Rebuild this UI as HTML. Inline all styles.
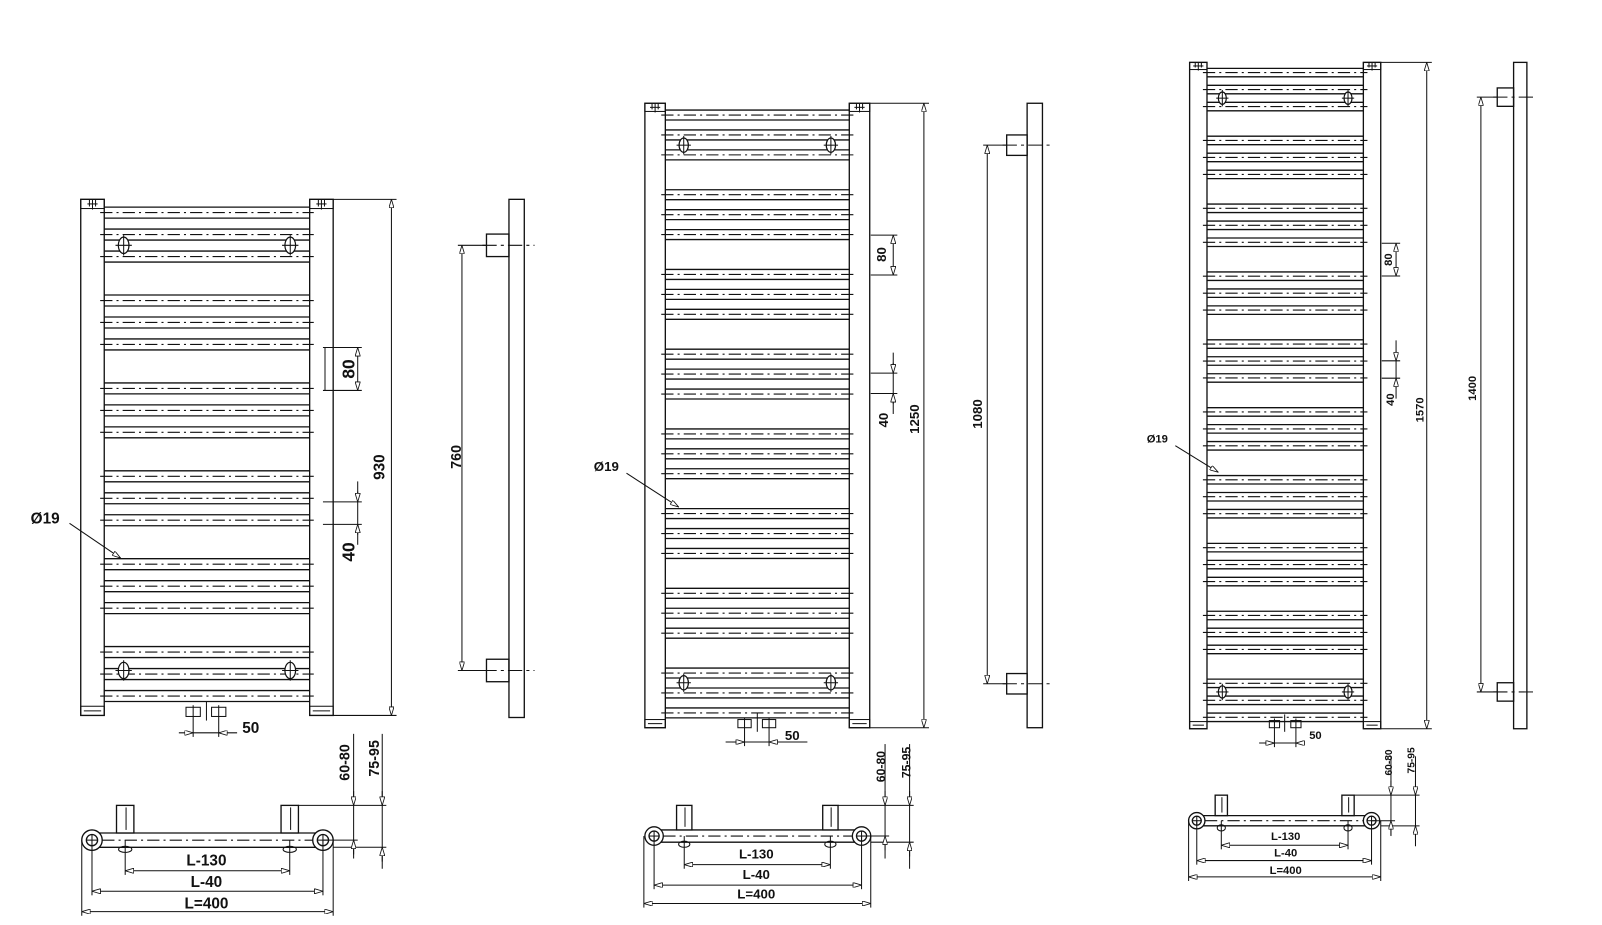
<!DOCTYPE html>
<html><head><meta charset="utf-8">
<style>
html,body{margin:0;padding:0;background:#fff;}
svg{display:block;}
text{font-family:"Liberation Sans","DejaVu Sans",sans-serif;font-weight:bold;fill:#111;}
</style></head>
<body>
<svg id="s" width="1602" height="925" viewBox="0 0 1567.5 905" xmlns="http://www.w3.org/2000/svg">
<defs>
<marker id="a" viewBox="0 0 10 6" refX="10" refY="3" markerWidth="9" markerHeight="5" orient="auto-start-reverse" markerUnits="userSpaceOnUse">
<path d="M0,0 L10,3 L0,6 Z" fill="#fff" stroke="#111" stroke-width="1"/>
</marker>
</defs>
<g id="g" stroke="#111" stroke-width="1.3" fill="none"></g>
<!-- Radiator 1 labels -->
<text x="376" y="457" font-size="15" transform="rotate(-90 376 457)" text-anchor="middle">930</text>
<text x="347" y="361" font-size="17" transform="rotate(-90 347 361)" text-anchor="middle">80</text>
<text x="347" y="540" font-size="17" transform="rotate(-90 347 540)" text-anchor="middle">40</text>
<text x="451" y="447" font-size="14" transform="rotate(-90 451 447)" text-anchor="middle">760</text>
<text x="30" y="512" font-size="15">Ø19</text>
<text x="237" y="717" font-size="15">50</text>
<text x="342" y="746" font-size="14" transform="rotate(-90 342 746)" text-anchor="middle">60-80</text>
<text x="371" y="742" font-size="14" transform="rotate(-90 371 742)" text-anchor="middle">75-95</text>
<text x="202" y="847" font-size="15" text-anchor="middle">L-130</text>
<text x="202" y="868" font-size="15" text-anchor="middle">L-40</text>
<text x="202" y="889" font-size="15" text-anchor="middle">L=400</text>
<!-- Radiator 2 labels -->
<text x="899" y="410" font-size="13" transform="rotate(-90 899 410)" text-anchor="middle">1250</text>
<text x="867" y="249" font-size="13" transform="rotate(-90 867 249)" text-anchor="middle">80</text>
<text x="869" y="411" font-size="13" transform="rotate(-90 869 411)" text-anchor="middle">40</text>
<text x="961" y="405" font-size="13" transform="rotate(-90 961 405)" text-anchor="middle">1080</text>
<text x="581" y="461" font-size="13">Ø19</text>
<text x="768" y="724" font-size="13">50</text>
<text x="866" y="750" font-size="12" transform="rotate(-90 866 750)" text-anchor="middle">60-80</text>
<text x="891" y="746" font-size="12" transform="rotate(-90 891 746)" text-anchor="middle">75-95</text>
<text x="740" y="840" font-size="13" text-anchor="middle">L-130</text>
<text x="740" y="860" font-size="13" text-anchor="middle">L-40</text>
<text x="740" y="879" font-size="13" text-anchor="middle">L=400</text>
<!-- Radiator 3 labels -->
<text x="1393" y="401" font-size="11" transform="rotate(-90 1393 401)" text-anchor="middle">1570</text>
<text x="1362" y="254" font-size="11" transform="rotate(-90 1362 254)" text-anchor="middle">80</text>
<text x="1364" y="391" font-size="11" transform="rotate(-90 1364 391)" text-anchor="middle">40</text>
<text x="1444" y="380" font-size="11" transform="rotate(-90 1444 380)" text-anchor="middle">1400</text>
<text x="1122" y="433" font-size="11">Ø19</text>
<text x="1281" y="723" font-size="11">50</text>
<text x="1362" y="746" font-size="10" transform="rotate(-90 1362 746)" text-anchor="middle">60-80</text>
<text x="1384" y="744" font-size="10" transform="rotate(-90 1384 744)" text-anchor="middle">75-95</text>
<text x="1258" y="822" font-size="11" text-anchor="middle">L-130</text>
<text x="1258" y="838" font-size="11" text-anchor="middle">L-40</text>
<text x="1258" y="855" font-size="11" text-anchor="middle">L=400</text>
</svg>
<script>
var g=document.getElementById('g'),NS='http://www.w3.org/2000/svg';
function el(t,a){var e=document.createElementNS(NS,t);for(var k in a)e.setAttribute(k,a[k]);g.appendChild(e);return e;}
function L(x1,y1,x2,y2,o){var a={x1:x1,y1:y1,x2:x2,y2:y2};if(o)for(var k in o)a[k]=o[k];return el('line',a);}
function R(x,y,w,h,o){var a={x:x,y:y,width:w,height:h};if(o)for(var k in o)a[k]=o[k];return el('rect',a);}
function D(x1,y1,x2,y2){return L(x1,y1,x2,y2,{'marker-start':'url(#a)','marker-end':'url(#a)','stroke-width':1});}
var dd={'stroke-dasharray':'12 4 2 4','stroke-width':1.1};
function rad(o){
 var xl=o.xl,cw=o.cw,xr=o.xr,top=o.top,bot=o.bot,p=o.p;
 var il=xl+cw,ir=xr-cw;
 R(xl,top,cw,bot-top);R(ir,top,cw,bot-top);
 // caps
 [xl,ir].forEach(function(x){R(x,top,cw,o.cap,{'stroke-width':1});L(x+cw/2-3,top,x+cw/2-3,top+o.cap-2,{'stroke-width':1});L(x+cw/2+3,top,x+cw/2+3,top+o.cap-2,{'stroke-width':1});L(x+cw/2,top,x+cw/2,top+o.cap+1,{'stroke-width':1});L(x+cw/2-5,top+o.cap/2,x+cw/2+5,top+o.cap/2,{'stroke-width':1});
  R(x,bot-o.cap,cw,o.cap,{'stroke-width':1});L(x+3,bot-o.cap/2,x+cw-3,bot-o.cap/2,{'stroke-width':1});});
 var h=p/4;
 for(var gi=0;gi<o.n;gi++){for(var t=0;t<3;t++){var c=o.c0+gi*4*p+t*p;
  L(il,c-h,ir,c-h);L(il,c+h,ir,c+h);L(il-4,c,ir+4,c,dd);}}
 // holes
 o.holes.forEach(function(y){[il+o.hx,ir-o.hx].forEach(function(x){el('ellipse',{cx:x,cy:y,rx:o.hr*0.65,ry:o.hr,fill:'#fff','stroke-width':1.2});L(x-o.hr,y,x+o.hr,y,{'stroke-width':1});L(x,y-o.hr-2,x,y+o.hr+2,{'stroke-width':1});});});
}
// Radiator 1
rad({xl:79,cw:23,xr:326,top:195,bot:700,p:21.5,c0:208,n:6,cap:9,holes:[240,656],hx:19,hr:8});
// Radiator 2
rad({xl:631,cw:20,xr:851,top:101,bot:712,p:19.5,c0:112.5,n:8,cap:8,holes:[142,668],hx:18,hr:7});
// Radiator 3
rad({xl:1164,cw:17,xr:1351,top:61,bot:713,p:16.6,c0:71,n:10,cap:7,holes:[96,677],hx:15,hr:6});

function heightDim(xr,top,bot,x){L(xr,top,x+5,top,{'stroke-width':1});L(xr,bot,x+5,bot,{'stroke-width':1});D(x,top,x,bot);}
heightDim(326,195,700,383);heightDim(851,101,712,904);heightDim(1351,61,713,1396);

function small(x0,y1,y2,x,out){L(x0,y1,x+4,y1,{'stroke-width':1});L(x0,y2,x+4,y2,{'stroke-width':1});
 if(out){L(x,y1-20,x,y2+20,{'stroke-width':1});L(x,y1-10,x,y1,{'marker-end':'url(#a)','stroke-width':1});L(x,y2+10,x,y2,{'marker-end':'url(#a)','stroke-width':1});}
 else D(x,y1,x,y2);}
small(316,340,382,350,false);L(318,340,318,382,{'stroke-width':1});
small(316,491,513,350,true);
small(852,230,269,874,false);small(852,365,385,874,true);
small(1352,238,270,1366,false);small(1352,353,370,1366,true);

// side views
function side(bx,bw,top,bot,sx,sh,y1,y2,dx){R(bx,top,bw,bot-top);
 [y1,y2].forEach(function(y){R(sx,y-sh/2,bx-sx,sh);L(sx-4,y,bx+bw+10,y,{'stroke-dasharray':'14 4 3 4','stroke-width':1});});
 L(sx,y1,dx-4,y1,{'stroke-width':1});L(sx,y2,dx-4,y2,{'stroke-width':1});D(dx,y1,dx,y2);}
side(498,15,195,702,476,22,240,656,452);
side(1005,15,101,712,985,20,142,669,966);
side(1481,13,61,713,1465,18,95,677,1449);

// Ø19 leaders
L(68,512,118,546,{'marker-end':'url(#a)','stroke-width':1});
L(613,463,664,496,{'marker-end':'url(#a)','stroke-width':1});
L(1150,436,1192,462,{'marker-end':'url(#a)','stroke-width':1});

// bottom nuts + 50 dim
function nuts(a,b,w,y,h,cx,dy,x0,x1){R(a,y,w,h,{'stroke-width':1});R(b,y,w,h,{'stroke-width':1});
 L(a+w/2,y-2,a+w/2,dy+4,{'stroke-width':1});L(b+w/2,y-2,b+w/2,dy+4,{'stroke-width':1});L(cx,y-6,cx,y+h+4,{'stroke-width':1});
 L(x0,dy,x1,dy,{'stroke-width':1});L(x0+6,dy,a+w/2,dy,{'marker-end':'url(#a)','stroke-width':1});L(b+w/2+8,dy,b+w/2,dy,{'marker-end':'url(#a)','stroke-width':1});}
nuts(182,207,14,692,9,202,717,175,232);
nuts(722,746,13,704,8,741,726,710,790);
nuts(1242,1263,10,705,7,1257,727,1232,1276);

// top views
function topv(o){var c=o.cy;
 L(o.c1,c-o.bh,o.c2,c-o.bh);L(o.c1,c+o.bh,o.c2,c+o.bh);
 [o.c1,o.c2].forEach(function(x){el('circle',{cx:x,cy:c,r:o.r,fill:'#fff'});el('circle',{cx:x,cy:c,r:o.r*0.55});L(x-o.r*0.55,c,x+o.r*0.55,c,{'stroke-width':1});L(x,c-o.r*0.55,x,c+o.r*0.55,{'stroke-width':1});});
 L(o.c1+o.r,c,o.c2-o.r,c,dd);
 [o.s1,o.s2].forEach(function(x){R(x,o.st,o.sw,c-o.bh-o.st,{fill:'#fff'});L(x+o.sw*0.55,o.st+2,x+o.sw*0.55,c-o.bh-3,{'stroke-width':1});el('ellipse',{cx:x+o.sw/2,cy:c+o.bh+2,rx:o.sw/2-2,ry:3,'stroke-width':1});});
 var m1=o.s1+o.sw/2,m2=o.s2+o.sw/2;
 L(m1,c,m1,o.y1+4,{'stroke-width':1});L(m2,c,m2,o.y1+4,{'stroke-width':1});D(m1,o.y1,m2,o.y1);
 L(o.c1,c,o.c1,o.y2+4,{'stroke-width':1});L(o.c2,c,o.c2,o.y2+4,{'stroke-width':1});D(o.c1,o.y2,o.c2,o.y2);
 L(o.o1,c,o.o1,o.y3+4,{'stroke-width':1});L(o.o2,c,o.o2,o.y3+4,{'stroke-width':1});D(o.o1,o.y3,o.o2,o.y3);
 // right dims
 L(o.s2+o.sw,o.st,o.v2+4,o.st,{'stroke-width':1});L(o.c2,c,o.v1+4,c,{'stroke-width':1});L(o.o2,c+o.bh,o.v2+4,c+o.bh,{'stroke-width':1});
 L(o.v1,o.vt,o.v1,o.vb,{'stroke-width':1});L(o.v1,o.st-14,o.v1,o.st,{'marker-end':'url(#a)','stroke-width':1});L(o.v1,c+14,o.v1,c,{'marker-end':'url(#a)','stroke-width':1});
 L(o.v2,o.vt,o.v2,o.vb+10,{'stroke-width':1});L(o.v2,o.st-14,o.v2,o.st,{'marker-end':'url(#a)','stroke-width':1});L(o.v2,c+o.bh+14,o.v2,c+o.bh,{'marker-end':'url(#a)','stroke-width':1});
}
topv({cy:822,bh:7,c1:90,c2:316,r:10,o1:80,o2:326,s1:114,s2:275,sw:17,st:788,y1:852,y2:872,y3:892,v1:346,v2:374,vt:718,vb:840});
topv({cy:818,bh:6,c1:640,c2:843,r:9,o1:630,o2:852,s1:662,s2:805,sw:15,st:788,y1:846,y2:866,y3:884,v1:866,v2:890,vt:728,vb:840});
topv({cy:803,bh:5,c1:1171,c2:1342,r:8,o1:1163,o2:1351,s1:1189,s2:1313,sw:12,st:778,y1:827,y2:842,y3:858,v1:1361,v2:1385,vt:740,vb:818});
</script>
</body></html>
